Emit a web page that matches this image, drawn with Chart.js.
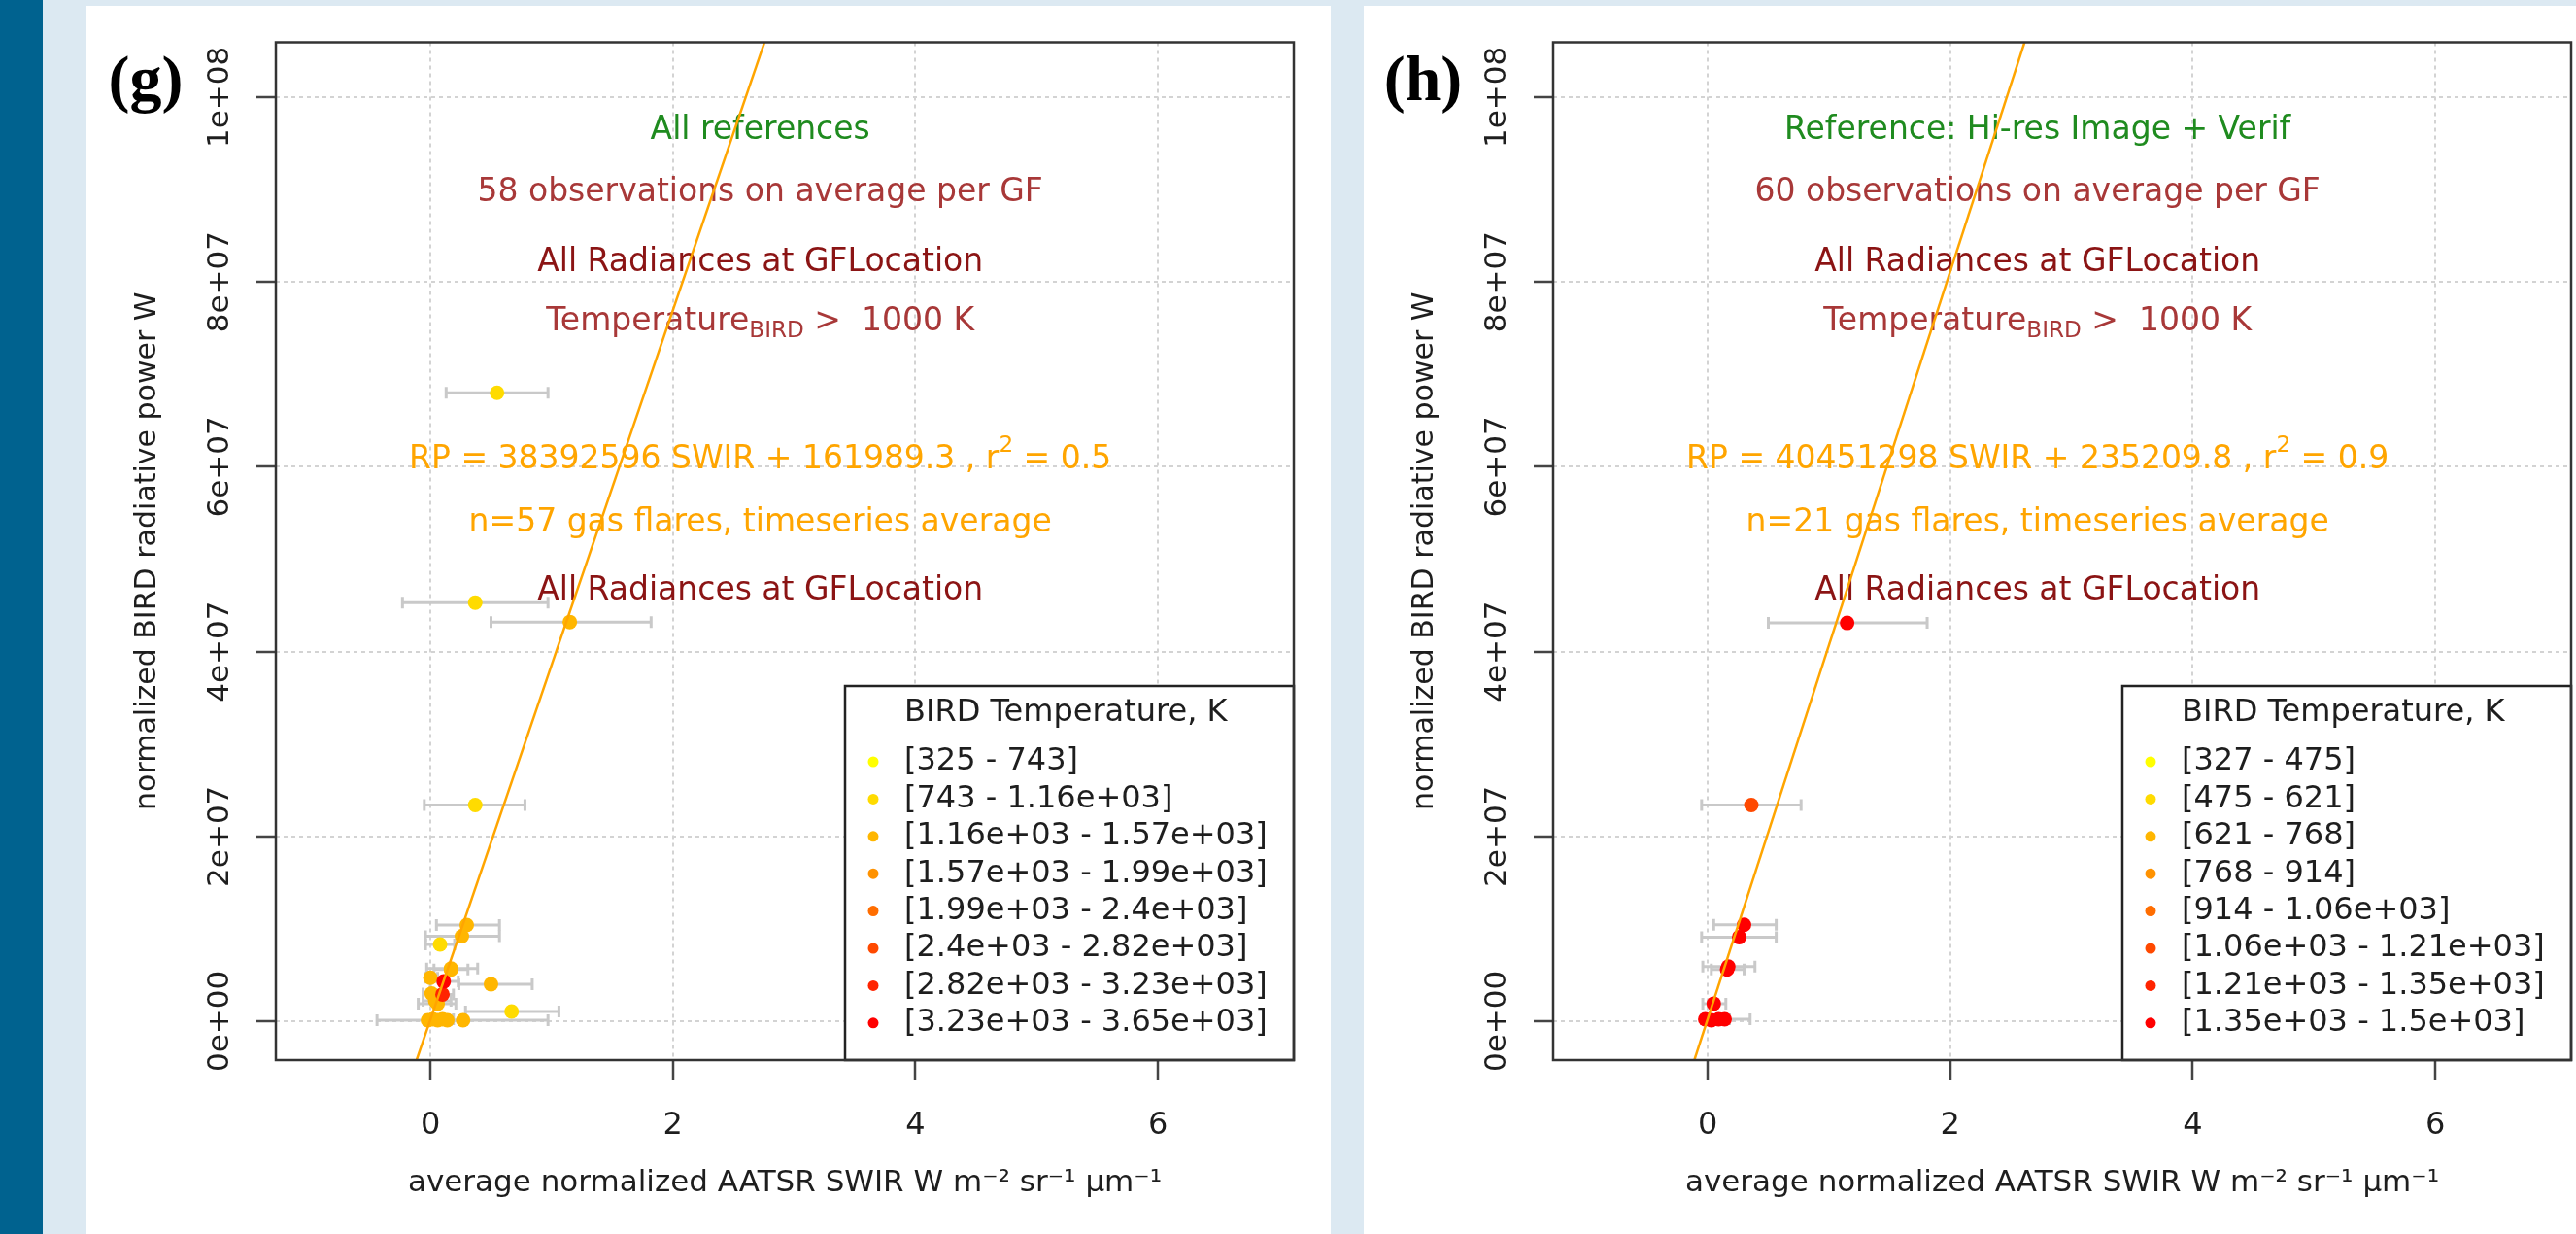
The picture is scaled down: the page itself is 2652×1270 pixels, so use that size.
<!DOCTYPE html>
<html>
<head>
<meta charset="utf-8">
<script src="https://cdn.jsdelivr.net/npm/chart.js@4.4.1/dist/chart.umd.min.js"></script>
<style>
  html, body { margin: 0; padding: 0; width: 2652px; height: 1270px; overflow: hidden; background: #dce9f2; }
  #faixa { position: absolute; left: 0; top: 0; width: 44px; height: 1270px; background: #00628f; }
  .painel { position: absolute; top: 6px; width: 1281px; height: 1264px; background: #ffffff; }
  #painelG { left: 89px; }
  #painelH { left: 1404px; }
  canvas { display: block; }
</style>
</head>
<body>
<div id="faixa"></div>
<div class="painel" id="painelG"><canvas id="graficoG" width="1281" height="1264"></canvas></div>
<div class="painel" id="painelH"><canvas id="graficoH" width="1281" height="1264"></canvas></div>
<script>
//DATA BELOW
const xTicks = [0, 2, 4, 6];
const yTicks = [0, 2e7, 4e7, 6e7, 8e7, 1e8];
const yTickLabels = ["0e+00", "2e+07", "4e+07", "6e+07", "8e+07", "1e+08"];
const xRange = [-1.274, 7.12];
const yRange = [-4.21e6, 1.0594e8];
const xTitle = "average normalized AATSR SWIR W m\u207B\u00B2 sr\u207B\u00B9 \u03BCm\u207B\u00B9";
const yTitle = "normalized BIRD radiative power W";
const legendTitle = "BIRD Temperature, K";

// colour of each temperature class (yellow -> red)
const classColors = ["#ffff00", "#ffdb00", "#ffb600", "#ff9200", "#ff6d00", "#ff4900", "#ff2400", "#ff0000"];

// panel (g) - all references
const gLegend = ["[325 - 743]", "[743 - 1.16e+03]", "[1.16e+03 - 1.57e+03]", "[1.57e+03 - 1.99e+03]",
  "[1.99e+03 - 2.4e+03]", "[2.4e+03 - 2.82e+03]", "[2.82e+03 - 3.23e+03]", "[3.23e+03 - 3.65e+03]"];
const gSwir = [0.55, 0.37, 1.15, 0.37, 0.30, 0.26, 0.08, 0.17, 0.17, 0.00, 0.50, 0.01, 0.06, 0.04, 0.67, 0.27, -0.02, 0.02, 0.06, 0.10, 0.14, 0.11, 0.10];
const gPower = [6.80e7, 4.53e7, 4.32e7, 2.34e7, 1.04e7, 0.92e7, 0.83e7, 0.57e7, 0.56e7, 0.47e7, 0.40e7, 0.30e7, 0.19e7, 0.22e7, 0.105e7, 0.01e7, 0.01e7, 0.02e7, 0.01e7, 0.02e7, 0.01e7, 0.43e7, 0.29e7];
const gSwirLow = [0.13, -0.23, 0.50, -0.05, 0.05, -0.04, -0.04, -0.03, 0.03, -0.04, 0.235, -0.06, -0.10, -0.06, 0.29, -0.44, -0.05, -0.03, -0.02, 0.02, 0.05, 0.00, 0.02];
const gSwirHigh = [0.97, 0.97, 1.82, 0.78, 0.57, 0.57, 0.20, 0.39, 0.31, 0.06, 0.84, 0.10, 0.21, 0.17, 1.06, 0.97, 0.05, 0.10, 0.14, 0.19, 0.24, 0.23, 0.19];
const gClass = [1, 1, 2, 1, 2, 2, 1, 2, 2, 2, 2, 2, 2, 2, 1, 2, 2, 2, 2, 2, 2, 7, 6];
const gFit = [38392596, 161989.3];
const gNotes = ["All references", "58 observations on average per GF", "All Radiances at GFLocation",
  "Temperature_{BIRD} >  1000 K", "RP = 38392596 SWIR + 161989.3 , r^{2} = 0.5",
  "n=57 gas flares, timeseries average", "All Radiances at GFLocation"];

// panel (h) - hi-res image + verification
const hLegend = ["[327 - 475]", "[475 - 621]", "[621 - 768]", "[768 - 914]",
  "[914 - 1.06e+03]", "[1.06e+03 - 1.21e+03]", "[1.21e+03 - 1.35e+03]", "[1.35e+03 - 1.5e+03]"];
const hSwir = [1.15, 0.36, 0.30, 0.26, 0.17, 0.16, 0.05, -0.02, 0.03, 0.09, 0.14];
const hPower = [4.31e7, 2.34e7, 1.044e7, 0.91e7, 0.59e7, 0.56e7, 0.19e7, 0.02e7, 0.01e7, 0.02e7, 0.02e7];
const hSwirLow = [0.50, -0.05, 0.05, -0.05, -0.04, 0.03, -0.04, -0.05, -0.02, 0.00, 0.03];
const hSwirHigh = [1.81, 0.77, 0.565, 0.565, 0.39, 0.30, 0.15, 0.03, 0.10, 0.18, 0.35];
const hClass = [7, 5, 7, 7, 7, 7, 7, 7, 7, 7, 7];
const hFit = [40451298, 235209.8];
const hNotes = ["Reference: Hi-res Image + Verif", "60 observations on average per GF", "All Radiances at GFLocation",
  "Temperature_{BIRD} >  1000 K", "RP = 40451298 SWIR + 235209.8 , r^{2} = 0.9",
  "n=21 gas flares, timeseries average", "All Radiances at GFLocation"];
//DATA ABOVE

//====================================================

//LAYOUT BELOW
const fonte = "'DejaVu Sans', sans-serif";
const noteColors = ["#1f8b1f", "#a83838", "#8b1414", "#a83838", "#ffa500", "#ffa500", "#8b1414"];
const noteX = 2.72;                                     // text anchor, data units
const noteY = [9.64e7, 8.96e7, 8.21e7, 7.57e7, 6.07e7, 5.39e7, 4.65e7];
const corTexto = "#1e1e1e";
//LAYOUT ABOVE

//FUNCTIONS BELOW
function PartesTexto(texto) { // splits "a_{b}" / "a^{b}" into normal, sub and sup pieces
  const partes = [];
  const re = /([_^])\{([^}]*)\}/g;
  let ultimo = 0;
  let m;
  while ((m = re.exec(texto)) !== null) {
    if (m.index > ultimo) partes.push({ t: texto.slice(ultimo, m.index), tipo: 0 });
    partes.push({ t: m[2], tipo: m[1] === "_" ? -1 : 1 });
    ultimo = re.lastIndex;
  }
  if (ultimo < texto.length) partes.push({ t: texto.slice(ultimo), tipo: 0 });
  return partes;
}

function EscreveCentrado(ctx, texto, cx, cy, tamanho, cor) {
  const partes = PartesTexto(texto);
  const pequeno = tamanho * 0.7;
  let total = 0;
  partes.forEach((p) => {
    ctx.font = (p.tipo === 0 ? tamanho : pequeno) + "px " + fonte;
    p.w = ctx.measureText(p.t).width;
    total += p.w;
  });
  let x = cx - total / 2;
  ctx.fillStyle = cor;
  ctx.textAlign = "left";
  ctx.textBaseline = "middle";
  partes.forEach((p) => {
    ctx.font = (p.tipo === 0 ? tamanho : pequeno) + "px " + fonte;
    let dy = 0;
    if (p.tipo === -1) dy = tamanho * 0.3;
    if (p.tipo === 1) dy = -tamanho * 0.45;
    ctx.fillText(p.t, x, cy + dy);
    x += p.w;
  });
}

function CriaPlugin(painel) {
  return {
    id: "extras" + painel.letra,
    beforeDatasetsDraw(chart) {
      const ctx = chart.ctx;
      const sx = chart.scales.x;
      const sy = chart.scales.y;
      const area = chart.chartArea;
      ctx.save();
      ctx.beginPath();
      ctx.rect(area.left, area.top, area.right - area.left, area.bottom - area.top);
      ctx.clip();
      // annotations
      for (let i = 0; i < painel.notas.length; i++) {
        EscreveCentrado(ctx, painel.notas[i], sx.getPixelForValue(noteX), sy.getPixelForValue(noteY[i]), 33, noteColors[i]);
      }
      // horizontal error bars
      ctx.strokeStyle = "#c9c9c9";
      ctx.lineWidth = 3;
      for (let i = 0; i < painel.swir.length; i++) {
        const py = sy.getPixelForValue(painel.power[i]);
        const x1 = sx.getPixelForValue(painel.low[i]);
        const x2 = sx.getPixelForValue(painel.high[i]);
        ctx.beginPath();
        ctx.moveTo(x1, py);
        ctx.lineTo(x2, py);
        ctx.moveTo(x1, py - 6);
        ctx.lineTo(x1, py + 6);
        ctx.moveTo(x2, py - 6);
        ctx.lineTo(x2, py + 6);
        ctx.stroke();
      }
      ctx.restore();
    },
    afterDraw(chart) {
      const ctx = chart.ctx;
      const sy = chart.scales.y;
      const area = chart.chartArea;
      ctx.save();
      // legend box
      const lx = area.right - 462;
      const ly = area.bottom - 385;
      ctx.fillStyle = "#ffffff";
      ctx.fillRect(lx, ly, 462, 385);
      ctx.strokeStyle = "#222";
      ctx.lineWidth = 2.5;
      ctx.strokeRect(lx, ly, 462, 385);
      ctx.fillStyle = corTexto;
      ctx.font = "32px " + fonte;
      ctx.textAlign = "left";
      ctx.textBaseline = "middle";
      ctx.fillText(legendTitle, lx + 61, ly + 28);
      chart.data.datasets.forEach((ds) => {
        if (ds.classe === undefined) return;
        const cy = ly + 78 + ds.classe * 38.4;
        ctx.fillStyle = ds.backgroundColor;
        ctx.beginPath();
        ctx.arc(lx + 29, cy, 5.5, 0, Math.PI * 2);
        ctx.fill();
        ctx.fillStyle = corTexto;
        ctx.fillText(ds.label, lx + 61, cy);
      });
      // box around the plot
      ctx.strokeStyle = "#333";
      ctx.lineWidth = 2.5;
      ctx.strokeRect(area.left, area.top, area.right - area.left, area.bottom - area.top);
      // y tick labels, parallel to the axis
      ctx.fillStyle = corTexto;
      ctx.font = "31px " + fonte;
      ctx.textAlign = "center";
      ctx.textBaseline = "middle";
      for (let i = 0; i < yTicks.length; i++) {
        ctx.save();
        ctx.translate(area.left - 57, sy.getPixelForValue(yTicks[i]));
        ctx.rotate(-Math.PI / 2);
        ctx.fillText(yTickLabels[i], 0, 0);
        ctx.restore();
      }
      // panel letter
      ctx.fillStyle = "#000";
      ctx.font = "bold 66px 'Liberation Serif', serif";
      ctx.textAlign = "center";
      ctx.textBaseline = "alphabetic";
      ctx.fillText("(" + painel.letra + ")", 61, 97);
      ctx.restore();
    }
  };
}

function MontaGrafico(idCanvas, painel) {
  const datasets = [];
  const fitData = [-2, 8].map((v) => ({ x: v, y: painel.fit[0] * v + painel.fit[1] }));
  datasets.push({
    type: "line", label: "fit", data: fitData, borderColor: "#ffa500", borderWidth: 2.5,
    pointRadius: 0, fill: false, order: 0
  });
  for (let c = 0; c < classColors.length; c++) {
    const pontos = [];
    for (let i = 0; i < painel.swir.length; i++) {
      if (painel.classe[i] === c) pontos.push({ x: painel.swir[i], y: painel.power[i] });
    }
    datasets.push({
      type: "scatter", label: painel.legenda[c], classe: c, data: pontos,
      backgroundColor: classColors[c], borderWidth: 0, pointRadius: 7.5, order: 8 - c
    });
  }

  const gradeCor = "#d3d3d3";
  new Chart(document.getElementById(idCanvas), {
    type: "scatter",
    data: { datasets: datasets },
    options: {
      responsive: false,
      animation: false,
      devicePixelRatio: 1,
      events: [],
      layout: { padding: { left: 0, top: 37.5, right: 38, bottom: 0 } },
      plugins: { legend: { display: false }, tooltip: { enabled: false } },
      scales: {
        x: {
          type: "linear", min: xRange[0], max: xRange[1],
          afterBuildTicks: (s) => { s.ticks = xTicks.map((v) => ({ value: v })); },
          afterFit: (s) => { s.height = 179; },
          grid: { color: gradeCor, lineWidth: 2, tickColor: "#444", tickWidth: 2.5, tickLength: 20 },
          border: { display: false, dash: [4, 4] },
          ticks: { color: corTexto, font: { family: fonte, size: 32 }, padding: 28, callback: (v) => String(v) },
          title: { display: true, text: xTitle, color: corTexto, font: { family: fonte, size: 31 }, padding: { top: 0, bottom: 33 } }
        },
        y: {
          type: "linear", min: yRange[0], max: yRange[1],
          afterBuildTicks: (s) => { s.ticks = yTicks.map((v) => ({ value: v })); },
          afterFit: (s) => { s.width = 195; },
          grid: { color: gradeCor, lineWidth: 2, tickColor: "#444", tickWidth: 2.5, tickLength: 20 },
          border: { display: false, dash: [4, 4] },
          ticks: { display: false },
          title: { display: true, text: yTitle, color: corTexto, font: { family: fonte, size: 30 }, padding: { top: 45, bottom: 0 } }
        }
      }
    },
    plugins: [CriaPlugin(painel)]
  });
}

function Main() {
  MontaGrafico("graficoG", {
    letra: "g", legenda: gLegend, swir: gSwir, power: gPower, low: gSwirLow, high: gSwirHigh,
    classe: gClass, fit: gFit, notas: gNotes
  });
  MontaGrafico("graficoH", {
    letra: "h", legenda: hLegend, swir: hSwir, power: hPower, low: hSwirLow, high: hSwirHigh,
    classe: hClass, fit: hFit, notas: hNotes
  });
}
//FUNCTIONS ABOVE

Main();
</script>
</body>
</html>
